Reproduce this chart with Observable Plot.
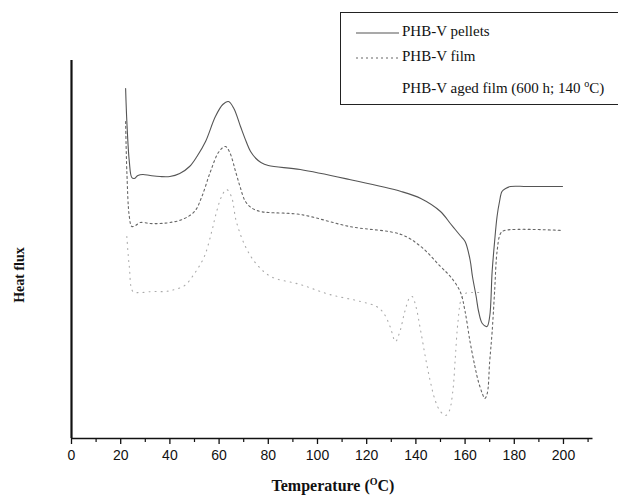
<!DOCTYPE html>
<html><head><meta charset="utf-8">
<script src="https://cdn.jsdelivr.net/npm/d3@7"></script>
<script src="https://cdn.jsdelivr.net/npm/@observablehq/plot@0.6"></script>
<style>
body{margin:0;background:#fff;}
#wrap{position:relative;width:618px;height:500px;overflow:hidden;font-family:"Liberation Serif","DejaVu Serif",serif;}
#legend{position:absolute;left:340px;top:12px;width:300px;height:93px;border-top:1px solid #222;border-bottom:1px solid #222;border-left:1px solid #222;box-sizing:border-box;}
.lt{position:absolute;left:61px;font-size:15px;color:#111;white-space:nowrap;}
#xl{position:absolute;left:0;width:666px;text-align:center;top:476px;font-weight:bold;font-size:16px;color:#111;}
#yl{position:absolute;left:20px;top:275px;transform:translate(-50%,-50%) rotate(-90deg);font-weight:bold;font-size:14px;color:#111;white-space:nowrap;}
sup{font-size:10px;}
</style></head>
<body><div id="wrap"></div>
<script>
const seriesNames = ["PHB-V pellets", "PHB-V film", "PHB-V aged film (600 h; 140 °C)"];
const xTicks = [0, 20, 40, 60, 80, 100, 120, 140, 160, 180, 200];
const xMinor = [10, 30, 50, 70, 90, 110, 130, 150, 170, 190, 210];

const pelletsT = [22,22.5,23.5,24.5,25.5,27,29,32,36,40,44,48,51,54.5,58.5,61.5,63.8,66,68.7,71,72.8,75,77,80,93,113,134,142,150,154,156,158,160,162,163,164.5,165.5,167,168.9,170,171,172,173,174,175,176.5,178.5,185,199.6];
const pelletsY = [350,317,277,261,260,263,264,263,262,262,265,272,282,297,322,334,337,330,312,297,287,280,276,273,269,259,247,240,227,215,209,203,197,179,162,142,127,115,112,122,167,197,222,237,247,250,252,252,252];

const filmT = [22,22.5,23.5,24.5,26,28,32,36,40,45,50,53,56.5,60,62.6,64.5,66.7,68.5,70.7,73.6,76.8,80,93,113,134,142,150,154,158,160,162,164,165.4,167,168,169,170,171,172,173,174.4,176,199.6];
const filmY = [317,267,222,212,213,216,215,215,216,219,227,242,267,287,292,285,267,252,237,230,227,226,224,212,204,192,172,162,147,127,97,72,57,45,40,45,77,107,147,187,205,208,208];

const agedT = [22.5,23.5,25,28,33,38,42,46,50,54,57,59,61,63,65,67,70.7,75,81,93,105,117.5,124,127,129.5,131.7,133.5,135.5,137.5,138.5,140,142,145,148,150,152,153.5,155,156,157,158.5,160,163,166.5];
const agedY = [202,172,147,146,147,147,149,153,165,182,207,227,242,249,242,217,192,175,162,154,144,137,132,125,112,97,107,127,141,142,132,107,67,37,27,23,27,47,80,114,140,145,146,146];

const toRows = (T, Y) => T.map((t, i) => ({t, v: Y[i]}));
const pellets = toRows(pelletsT, pelletsY);
const film = toRows(filmT, filmY);
const aged = toRows(agedT, agedY);

const chart = Plot.plot({
  width: 618, height: 500,
  marginLeft: 71, marginRight: 25.5, marginTop: 58, marginBottom: 62,
  x: {domain: [0, 212]},
  y: {domain: [0, 380], axis: null},
  style: {background: "#fff", overflow: "visible", fontSize: "14px", fontFamily: "Liberation Sans, Arial, sans-serif"},
  marks: [
    Plot.line(aged, {x: "t", y: "v", stroke: "#aaa", strokeWidth: 1.1, strokeDasharray: "1,5", curve: "catmull-rom"}),
    Plot.line(film, {x: "t", y: "v", stroke: "#666", strokeWidth: 1.1, strokeDasharray: "2,3", curve: "catmull-rom"}),
    Plot.line(pellets, {x: "t", y: "v", stroke: "#555", strokeWidth: 1.1, curve: "catmull-rom"}),
    Plot.axisX({ticks: xTicks, tickSize: 6, tickPadding: 6, label: null, fontSize: 14, fill: "#111", stroke: "#111", strokeWidth: 1.3}),
    Plot.axisX({ticks: xMinor, tickSize: 4, text: null, label: null, stroke: "#111", strokeWidth: 1.2}),
    Plot.ruleY([0], {stroke: "#111", strokeWidth: 1.6}),
    Plot.ruleX([0], {y1: 0, y2: 378, stroke: "#111", strokeWidth: 2.2})
  ]
});
const wrap = document.getElementById("wrap");
wrap.appendChild(chart);

const lg = document.createElement("div");
lg.id = "legend";
lg.innerHTML = `
<svg width="60" height="92" style="position:absolute;left:0;top:0">
  <line x1="15" x2="58" y1="20" y2="20" stroke="#555" stroke-width="1.1"/>
  <line x1="15" x2="58" y1="45" y2="45" stroke="#666" stroke-width="1.1" stroke-dasharray="2,3"/>
</svg>
<div class="lt" style="top:10px">${seriesNames[0]}</div>
<div class="lt" style="top:35px">${seriesNames[1]}</div>
<div class="lt" style="top:65px">PHB-V aged film (600 h; 140 <sup>o</sup>C)</div>`;
wrap.appendChild(lg);

const xl = document.createElement("div");
xl.id = "xl";
xl.innerHTML = "Temperature (<sup>O</sup>C)";
wrap.appendChild(xl);
const yl = document.createElement("div");
yl.id = "yl";
yl.textContent = "Heat flux";
wrap.appendChild(yl);
</script></body></html>
